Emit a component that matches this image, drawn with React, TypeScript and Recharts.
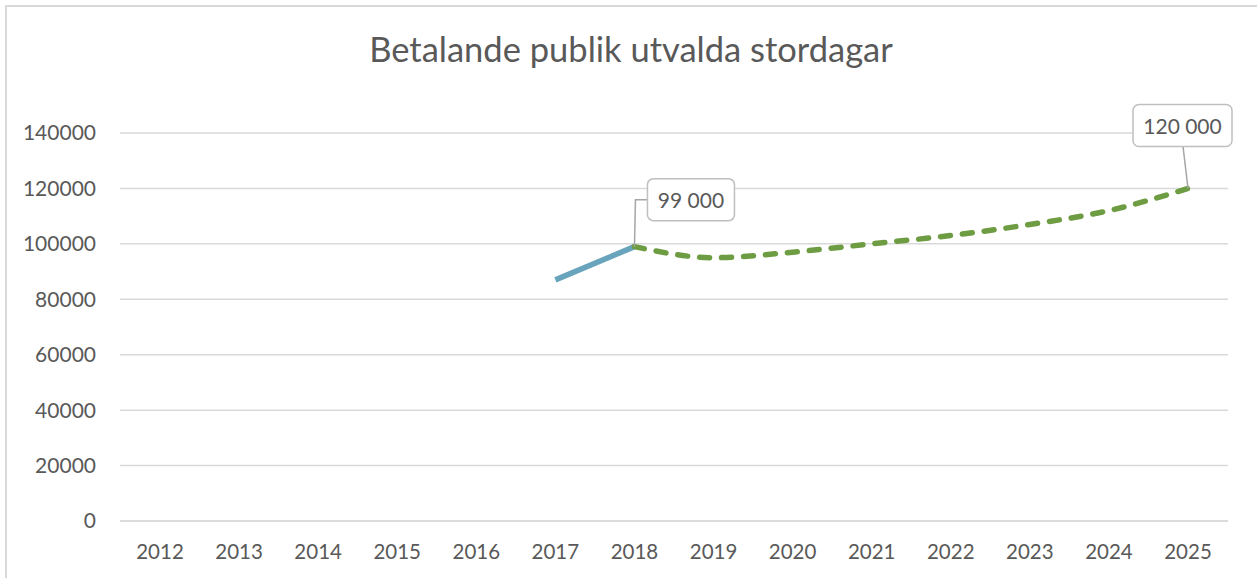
import { LineChart, Line, XAxis, YAxis, CartesianGrid, LabelList } from "recharts";

const years = ["2012", "2013", "2014", "2015", "2016", "2017", "2018", "2019", "2020", "2021", "2022", "2023", "2024", "2025"];
const actual: (number | null)[] = [null, null, null, null, null, 87000, 99000, null, null, null, null, null, null, null];
const forecast: (number | null)[] = [null, null, null, null, null, null, 99000, 95000, 97000, 100000, 103000, 107000, 112000, 120000];
const yTicks = [0, 20000, 40000, 60000, 80000, 100000, 120000, 140000];
const labelled = [6, 13];

const data = years.map((year, i) => ({ year, actual: actual[i], forecast: forecast[i] }));

const FONT = "Lato, 'Open Sans', sans-serif";
const TEXT = "#595959";

function fmt(v: number) {
  return String(v).replace(/\B(?=(\d{3})+(?!\d))/g, " ");
}

function Callout(props: any) {
  const { x, y, value, index } = props;
  if (!labelled.includes(index) || value == null) return null;
  const right = index === 6;
  const bx = right ? x + 13 : x - 55;
  const by = right ? y - 68 : y - 84;
  const w = right ? 87 : 99;
  const h = 42;
  const leader = right
    ? `M${x},${y} L${x + 1},${y - 47} L${bx},${y - 47}`
    : `M${x},${y} L${x - 5},${by + h}`;
  return (
    <g>
      <path d={leader} stroke="#a6a6a6" strokeWidth={1.5} fill="none" />
      <rect x={bx} y={by} width={w} height={h} rx={6} fill="#fff" stroke="#bfbfbf" strokeWidth={1.5} />
      <text x={bx + w / 2} y={by + h / 2} textAnchor="middle" dominantBaseline="central" fontSize={21} fill={TEXT} fontFamily={FONT}>
        {fmt(value)}
      </text>
    </g>
  );
}

export default function App() {
  return (
    <div style={{ position: "absolute", left: 0, top: 0, width: 1257, height: 578, overflow: "hidden", background: "#fff" }}>
      <div style={{ position: "absolute", left: 5, top: 5, width: 1300, height: 620, border: "2px solid #d9d9d9" }} />
      <div style={{ position: "absolute", left: 0, width: 1262, top: 28, textAlign: "center", fontFamily: FONT, fontSize: 34.5, color: TEXT }}>
        Betalande publik utvalda stordagar
      </div>
      <div style={{ position: "absolute", left: 0, top: 0 }}>
        <LineChart width={1257} height={578} data={data} margin={{ top: 133, right: 29, bottom: 0, left: 0 }}>
          <CartesianGrid vertical={false} stroke="#d9d9d9" strokeWidth={1.5} />
          <XAxis
            dataKey="year"
            height={57}
            padding={{ left: 40, right: 40 }}
            tickLine={false}
            axisLine={{ stroke: "#d9d9d9", strokeWidth: 1.5 }}
            tickSize={0}
            tickMargin={23}
            interval={0}
            tick={{ fontSize: 20.5, fill: TEXT, fontFamily: FONT }}
          />
          <YAxis
            width={120}
            domain={[0, 140000]}
            ticks={yTicks}
            tickLine={false}
            axisLine={false}
            tickSize={0}
            tickMargin={24}
            tick={{ fontSize: 21, fill: TEXT, fontFamily: FONT }}
          />
          <Line dataKey="actual" type="linear" stroke="#68a4bc" strokeWidth={5.5} dot={false} isAnimationActive={false} connectNulls={false} />
          <Line
            dataKey="forecast"
            type="monotone"
            stroke="#6e9c43"
            strokeWidth={5.5}
            strokeDasharray="10 12"
            strokeLinecap="round"
            dot={false}
            isAnimationActive={false}
          >
            <LabelList dataKey="forecast" content={Callout} />
          </Line>
        </LineChart>
      </div>
    </div>
  );
}
